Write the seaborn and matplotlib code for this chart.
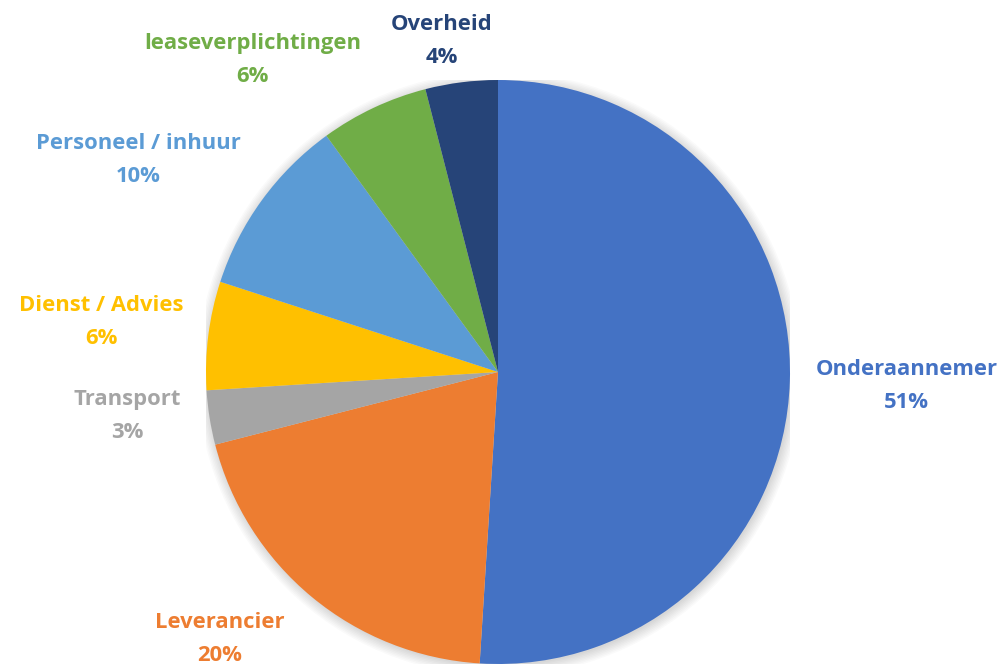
import matplotlib
matplotlib.use("Agg")
import matplotlib.pyplot as plt
import seaborn as sns
import numpy as np

categories = ["Onderaannemer", "Leverancier", "Transport", "Dienst / Advies",
              "Personeel / inhuur", "leaseverplichtingen", "Overheid"]
values = [51, 20, 3, 6, 10, 6, 4]
hex_colors = ["#4472C4", "#ED7D31", "#A5A5A5", "#FFC000", "#5B9BD5", "#70AD47", "#264478"]

# label placement (angle clockwise from top in degrees, distance in radii)
label_layout = [(92.0, 1.40), (226.2, 1.32), (263.2, 1.28), (277.2, 1.37),
                (300.5, 1.43), (321.8, 1.36), (350.4, 1.15)]

sns.set_theme(style="white")
plt.rcParams['font.family'] = ['Open Sans', 'DejaVu Sans']

palette = sns.color_palette(hex_colors)

fig = plt.figure(figsize=(10.03, 6.66), dpi=100)
W, H = 1003, 666
cx, cy, R = 498, 372, 292
ax = fig.add_axes([(cx - R) / W, (H - cy - R) / H, 2 * R / W, 2 * R / H])
ax.set_xlim(-1, 1)
ax.set_ylim(-1, 1)
ax.set_aspect("equal")
ax.axis("off")

# soft shadow around the pie
for k in range(8):
    circ = plt.Circle((0.004, -0.006), 1.0 + k * 0.005, color="black",
                      alpha=0.018, zorder=0, lw=0)
    ax.add_patch(circ)

ax.pie(values, colors=palette, startangle=90, counterclock=False,
       radius=1.0, wedgeprops=dict(linewidth=0), frame=False)
ax.set_xlim(-1, 1)
ax.set_ylim(-1, 1)

for cat, v, col, (ang, dist) in zip(categories, values, palette, label_layout):
    a = np.deg2rad(ang)
    x = dist * np.sin(a)
    y = dist * np.cos(a)
    ax.text(x, y, f"{cat}\n{v}%", ha="center", va="center", color=col,
            fontsize=15.8, fontweight="bold", linespacing=1.76, clip_on=False)

fig.savefig("out.png", dpi=100, facecolor="white")
